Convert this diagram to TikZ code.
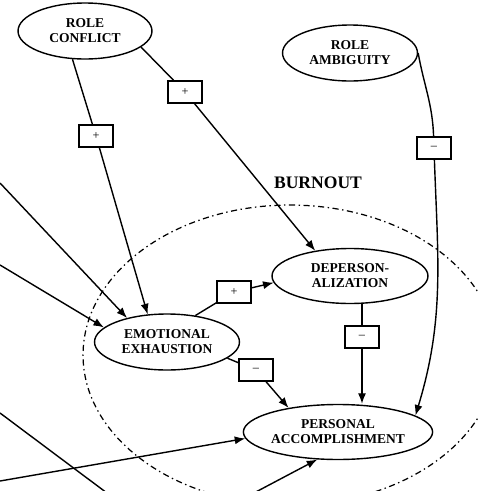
\documentclass[tikz,border=0pt]{standalone}
\usepackage{fontspec}
\setmainfont{Liberation Serif}
\usetikzlibrary{shapes.geometric,arrows.meta}

\tikzset{
	factor/.style={draw,ellipse,line width=0.8pt,inner sep=0pt,align=center,font=\bfseries\fontsize{7.7}{8.6}\selectfont},
	sign/.style={draw,fill=white,line width=0.7pt,minimum width=0.68cm,minimum height=0.44cm,inner sep=0pt,font=\fontsize{7}{8}\selectfont},
	link/.style={line width=0.8pt},
	arr/.style={link,-{Latex[length=6pt,width=4.6pt]}}
}

\begin{document}
\begin{tikzpicture}[x=0.02cm,y=-0.02cm]
	\useasboundingbox (0,0) rectangle (478,491);
	\clip (0,0) rectangle (478,491);

	\draw[line width=0.7pt,dash pattern=on 3.5pt off 2pt on 0.8pt off 2pt] (290,355) ellipse [x radius=4.14cm,y radius=3cm];
	\node[font=\bfseries\fontsize{10}{12}\selectfont] (burnout) at (318,183) {BURNOUT};

	\node[factor,minimum width=2.68cm,minimum height=1.12cm] (rc) at (85,31) {ROLE\\CONFLICT};
	\node[factor,minimum width=2.7cm,minimum height=1.12cm] (ra) at (350,53) {ROLE\\AMBIGUITY};
	\node[factor,minimum width=2.9cm,minimum height=1.12cm] (ee) at (167,342) {EMOTIONAL\\EXHAUSTION};
	\node[factor,minimum width=3.12cm,minimum height=1.1cm] (dp) at (350,276) {DEPERSON-\\ALIZATION};
	\node[factor,minimum width=3.54cm,minimum height=1.1cm] (pa) at (338,432) {PERSONAL\\ACCOMPLISHMENT};

	\node[sign] (b1) at (96,136) {+};
	\node[sign] (b2) at (185,92) {+};
	\node[sign] (b3) at (434,148) {\textendash};
	\node[sign] (b4) at (234,292) {+};
	\node[sign] (b5) at (256,370) {\textendash};
	\node[sign] (b6) at (362,337) {\textendash};

	\draw[link] (rc.-114) -- (b1);
	\draw[arr] (b1) -- (ee.125);
	\draw[link] (rc.-16) -- (b2);
	\draw[arr] (b2) -- (dp.144);
	\draw[link] (ra.east) to[out=-80,in=92] (b3);
	\draw[arr] (b3) to[out=-88,in=73] (pa.12);
	\draw[link] (ee.43) -- (b4);
	\draw[arr] (b4) -- (dp.185);
	\draw[link] (ee.-15) -- (b5);
	\draw[arr] (b5) -- (pa.154);
	\draw[link] (dp.south -| b6) -- (b6);
	\draw[arr] (b6) -- (pa.north -| b6);

	\coordinate (s1) at (0,183);
	\coordinate (s2) at (0,265);
	\coordinate (s3) at (0,481);
	\coordinate (s4) at (252,494);
	\coordinate (s5) at (0,413);
	\coordinate (t5) at (115,499);
	\draw[arr] (s1) -- (ee.149);
	\draw[arr] (s2) -- (ee.167);
	\draw[arr] (s3) -- (pa.184);
	\draw[arr] (s4) -- (pa.-127);
	\draw[link] (s5) -- (t5);
\end{tikzpicture}
\end{document}
